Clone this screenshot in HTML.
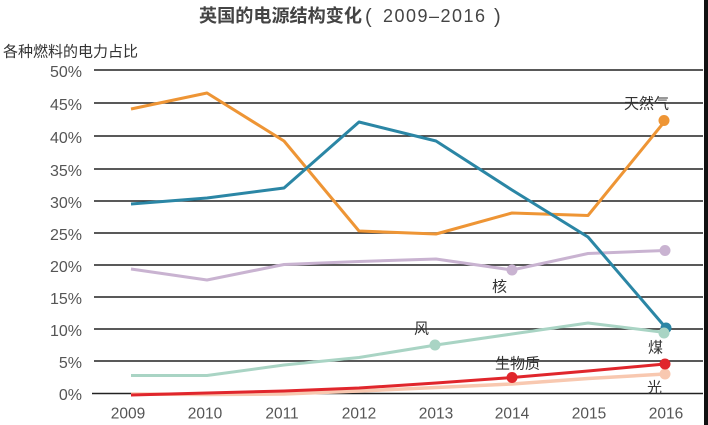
<!DOCTYPE html>
<html>
<head>
<meta charset="utf-8">
<style>
  html, body { margin: 0; padding: 0; background: #fff; }
  svg { display: block; }
  .cjk { font-family: "Liberation Sans", "Noto Sans CJK SC", sans-serif; }
  .num { font-family: "Liberation Sans", sans-serif; }
</style>
</head>
<body>
<svg width="708" height="425" viewBox="0 0 708 425" xmlns="http://www.w3.org/2000/svg">
  <rect x="0" y="0" width="708" height="425" fill="#ffffff"/>

  <!-- Title -->
  <text class="cjk" x="199" y="22" font-size="18" font-weight="bold" fill="#444" textLength="163" lengthAdjust="spacingAndGlyphs">英国的电源结构变化</text>
  <text class="num" x="365" y="23" font-size="20" fill="#444">(</text>
  <text class="num" x="383" y="22" font-size="18" fill="#444" textLength="102" lengthAdjust="spacing">2009–2016</text>
  <text class="num" x="494" y="23" font-size="20" fill="#444">)</text>

  <!-- Y axis title -->
  <text class="cjk" x="3" y="56.5" font-size="15" fill="#333">各种燃料的电力占比</text>

  <!-- Gridlines -->
  <g stroke="#222" stroke-width="1.4">
    <line x1="94" y1="70" x2="703" y2="70"/>
    <line x1="94" y1="103" x2="703" y2="103"/>
    <line x1="94" y1="136" x2="703" y2="136"/>
    <line x1="94" y1="169" x2="703" y2="169"/>
    <line x1="94" y1="201" x2="703" y2="201"/>
    <line x1="94" y1="233" x2="703" y2="233"/>
    <line x1="94" y1="265" x2="703" y2="265"/>
    <line x1="94" y1="297" x2="703" y2="297"/>
    <line x1="94" y1="329" x2="703" y2="329"/>
    <line x1="94" y1="361" x2="703" y2="361"/>
    <line x1="92" y1="393.5" x2="703" y2="393.5"/>
  </g>

  <!-- Y tick labels -->
  <g class="num" font-size="16" fill="#555" text-anchor="end">
    <text x="82" y="77">50%</text>
    <text x="82" y="110">45%</text>
    <text x="82" y="143">40%</text>
    <text x="82" y="176">35%</text>
    <text x="82" y="208">30%</text>
    <text x="82" y="240">25%</text>
    <text x="82" y="272">20%</text>
    <text x="82" y="304">15%</text>
    <text x="82" y="336">10%</text>
    <text x="82" y="368">5%</text>
    <text x="82" y="400">0%</text>
  </g>

  <!-- X tick labels -->
  <g class="num" font-size="15.5" fill="#555" text-anchor="middle">
    <text x="128" y="418.5">2009</text>
    <text x="205" y="418.5">2010</text>
    <text x="282" y="418.5">2011</text>
    <text x="359" y="418.5">2012</text>
    <text x="436" y="418.5">2013</text>
    <text x="512" y="418.5">2014</text>
    <text x="589" y="418.5">2015</text>
    <text x="666" y="418.5">2016</text>
  </g>

  <!-- Series -->
  <g fill="none" stroke-width="3" stroke-linejoin="round" stroke-linecap="butt">
    <!-- Solar -->
    <polyline stroke="#f8c8b0" stroke-width="3.5" points="131,394 207,394.5 284,394 359,391 436,387.5 512,384 588,378.5 665,374"/>
    <!-- Biomass -->
    <polyline stroke="#e0262c" points="131,395 207,393 284,391 359,388 436,383 512,377.5 588,371 665,364"/>
    <!-- Nuclear -->
    <polyline stroke="#c9b3d1" points="131,269 207,280 284,264.5 359,261.5 436,259 512,270 588,253.5 665,250.5"/>
    <!-- Gas -->
    <polyline stroke="#ee9535" points="131,109 207,93 284,141 359,231 436,234 512,213 588,215.5 665,121"/>
    <!-- Coal -->
    <polyline stroke="#2b86a5" points="131,204 207,198 284,188 359,122 436,141 512,190 588,237 666,328"/>
    <!-- Wind -->
    <polyline stroke="#a9d4c4" points="131,375.5 207,375.5 284,365 359,357.5 436,345 512,334 588,323 665,332.5"/>
  </g>

  <!-- Markers -->
  <circle cx="665" cy="374" r="5.5" fill="#f8c8b0"/>
  <circle cx="512" cy="377.5" r="5.5" fill="#e0262c"/>
  <circle cx="665" cy="364" r="5.5" fill="#e0262c"/>
  <circle cx="512" cy="270" r="5.5" fill="#c9b3d1"/>
  <circle cx="665" cy="250.5" r="5.5" fill="#c9b3d1"/>
  <circle cx="664" cy="120.5" r="5.5" fill="#ee9535"/>
  <circle cx="666" cy="328" r="5.5" fill="#2b86a5"/>
  <circle cx="435" cy="345" r="5.5" fill="#a9d4c4"/>
  <circle cx="664" cy="333" r="5.5" fill="#a9d4c4"/>

  <!-- Series labels -->
  <g class="cjk" font-size="15" fill="#333">
    <text x="624" y="108.5">天然气</text>
    <text x="492" y="291.5">核</text>
    <text x="414" y="333.5">风</text>
    <text x="648" y="352.5">煤</text>
    <text x="495" y="368.5">生物质</text>
    <text x="647" y="392.5">光</text>
  </g>

  <!-- Right dark edge -->
  <rect x="704" y="0" width="4" height="425" fill="#111"/>
</svg>
</body>
</html>
